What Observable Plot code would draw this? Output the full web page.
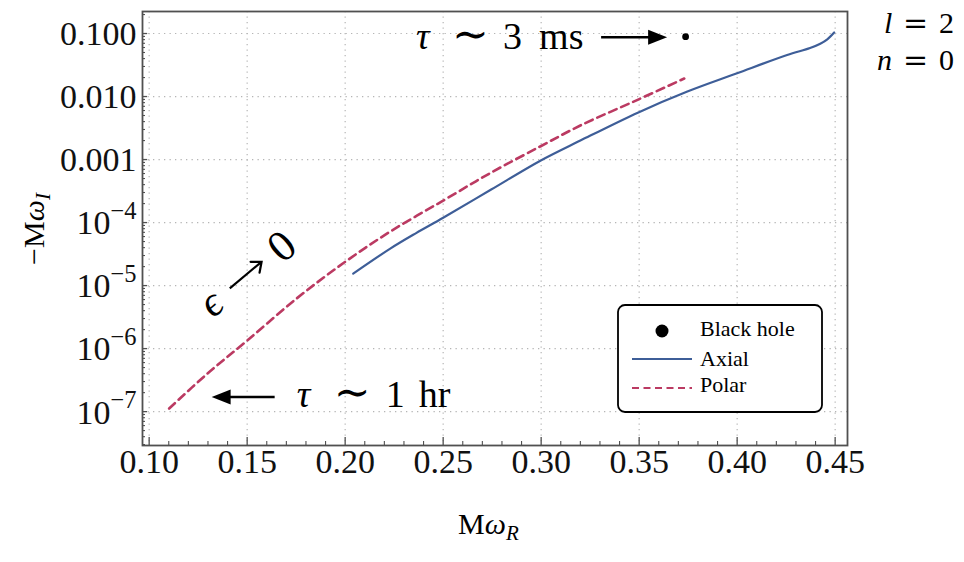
<!DOCTYPE html>
<html>
<head>
<meta charset="utf-8">
<script src="https://cdn.jsdelivr.net/npm/d3@7"></script>
<script src="https://cdn.jsdelivr.net/npm/@observablehq/plot@0.6"></script>
<style>
  html, body { margin: 0; padding: 0; background: #fff; }
  #chart svg { display: block; }
</style>
</head>
<body>
<div id="chart"></div>
<script>
// ---------- data ----------
const axialX = [0.2041, 0.2230, 0.2362, 0.2500, 0.2745, 0.2996, 0.3200, 0.3496, 0.3746, 0.3996, 0.4255, 0.4372, 0.4424, 0.4460, 0.4495];
const axialY = [1.55e-5, 3.86e-5, 6.8e-5, 1.19e-4, 3.34e-4, 9.6e-4, 2.0e-3, 5.6e-3, 1.2e-2, 2.32e-2, 4.56e-2, 5.9e-2, 6.9e-2, 8.1e-2, 1.04e-1];

const polarX = [0.1102, 0.1295, 0.1500, 0.1754, 0.1995, 0.2230, 0.2500, 0.2745, 0.2995, 0.3200, 0.3495, 0.3730];
const polarY = [1.12e-7, 3.96e-7, 1.34e-6, 6.3e-6, 2.32e-5, 7.2e-5, 2.23e-4, 6.22e-4, 1.61e-3, 3.47e-3, 8.95e-3, 1.93e-2];

const blackHoleX = [0.3737];
const blackHoleY = [0.0890];

const xTicks = [0.10, 0.15, 0.20, 0.25, 0.30, 0.35, 0.40, 0.45];
const xTickLabels = ["0.10", "0.15", "0.20", "0.25", "0.30", "0.35", "0.40", "0.45"];
const yTicks = [1e-7, 1e-6, 1e-5, 1e-4, 1e-3, 1e-2, 1e-1];
const yTickLabels = ["10^−7", "10^−6", "10^−5", "10^−4", "0.001", "0.010", "0.100"];

const xDomain = [0.0966, 0.4563];
const yDomain = [2.9e-8, 0.2236];

const legendLabels = ["Black hole", "Axial", "Polar"];

// ---------- derived tables ----------
const axial = axialX.map((x, i) => ({x, y: axialY[i]}));
const polar = polarX.map((x, i) => ({x, y: polarY[i]}));
const blackHole = blackHoleX.map((x, i) => ({x, y: blackHoleY[i]}));
const xTickData = xTicks.map((v, i) => ({v, label: xTickLabels[i]}));
const yTickData = yTicks.map((v, i) => ({v, label: yTickLabels[i]}));

const xMinor = [];
for (let k = 10; k <= 45; k++) { if (k % 5 !== 0) xMinor.push(k / 100); }
const yMinor = [];
for (let e = -8; e <= -1; e++) for (let m = 2; m <= 9; m++) {
  const v = m * Math.pow(10, e);
  if (v >= yDomain[0] && v <= yDomain[1]) yMinor.push(v);
}

// ---------- layout ----------
const W = 964, H = 562;
const mL = 142, mR = 117, mT = 11, mB = 117;
const fw = W - mL - mR, fh = H - mT - mB;
const SERIF = "'Liberation Serif', 'Times New Roman', serif";
const MATHSYM = "'DejaVu Serif', serif";
const AXIAL_COLOR = "#3e5e98";
const POLAR_COLOR = "#bb3a62";
const GRID = "#b5b5b5";
const AXC = "#505050";

const svg = Plot.plot({
  width: W, height: H,
  marginLeft: mL, marginRight: mR, marginTop: mT, marginBottom: mB,
  style: {background: "#fff", fontFamily: SERIF},
  x: {domain: xDomain, axis: null},
  y: {type: "log", domain: yDomain, axis: null},
  marks: [
    Plot.ruleX(xTicks, {x: d => d, stroke: GRID, strokeWidth: 1.2, strokeDasharray: "1.3,4.2"}),
    Plot.ruleY(yTicks, {y: d => d, stroke: GRID, strokeWidth: 1.2, strokeDasharray: "1.3,4.2"}),
    Plot.line(polar, {x: "x", y: "y", stroke: POLAR_COLOR, strokeWidth: 2.6, strokeDasharray: "8,5", curve: "catmull-rom"}),
    Plot.line(axial, {x: "x", y: "y", stroke: AXIAL_COLOR, strokeWidth: 2.2, curve: "catmull-rom"}),
    Plot.dot(blackHole, {x: "x", y: "y", r: 3.4, fill: "#000", stroke: null}),
    // inward ticks
    Plot.ruleY(yTicks, {y: d => d, insetRight: fw - 5, stroke: AXC, strokeWidth: 1.3}),
    Plot.ruleY(yMinor, {y: d => d, insetRight: fw - 3, stroke: AXC, strokeWidth: 1.1}),
    Plot.ruleX(xTicks, {x: d => d, insetTop: fh - 8, stroke: AXC, strokeWidth: 1.3}),
    Plot.ruleX(xMinor, {x: d => d, insetTop: fh - 4, stroke: AXC, strokeWidth: 1.1}),
    // tick labels
    Plot.text(yTickData, {y: "v", text: "label", frameAnchor: "left", dx: -6, dy: 1, textAnchor: "end", fontSize: 34, fontFamily: SERIF, fill: "#111"}),
    Plot.text(xTickData, {x: "v", text: "label", frameAnchor: "bottom", dy: 27, fontSize: 34, fontFamily: SERIF, fill: "#111"}),
    Plot.frame({stroke: AXC, strokeWidth: 1.8})
  ]
});

document.getElementById("chart").appendChild(svg);

// superscript formatting for tick labels of the form "10^−4"
svg.querySelectorAll("text").forEach(t => {
  const s = t.textContent;
  if (s.includes("^")) {
    const [base, exp] = s.split("^");
    t.textContent = "";
    const NS = "http://www.w3.org/2000/svg";
    const b = document.createElementNS(NS, "tspan");
    b.textContent = base;
    const e = document.createElementNS(NS, "tspan");
    e.textContent = exp;
    e.setAttribute("font-size", "0.72em");
    e.setAttribute("dy", "-0.62em");
    t.appendChild(b);
    t.appendChild(e);
  }
});

// ---------- annotations (positioned through the plot's scales) ----------
const sx = svg.scale("x"), sy = svg.scale("y");
const g = d3.select(svg).append("g").attr("font-family", SERIF).attr("fill", "#000").attr("text-anchor", "start");

function put(x, y, str, size, opts = {}) {
  const t = g.append("text").attr("x", x).attr("y", y).attr("font-size", size).attr("text-anchor", opts.anchor || "start");
  if (opts.italic) t.attr("font-style", "italic");
  if (opts.family) t.attr("font-family", opts.family);
  t.text(str);
  return t;
}

const bx = sx.apply(blackHoleX[0]), by = sy.apply(blackHoleY[0]);

// tau ~ 3 ms ---> black hole
const ay = by + 1;
g.append("line").attr("x1", bx - 84).attr("x2", bx - 30).attr("y1", ay).attr("y2", ay)
  .attr("stroke", "#000").attr("stroke-width", 2.6);
g.append("path").attr("d", `M${bx - 18},${ay} L${bx - 37},${ay - 7.5} L${bx - 37},${ay + 7.5} Z`).attr("fill", "#000");
put(bx - 269, ay + 12, "τ", 38, {italic: true});
put(bx - 233, ay + 12, "∼", 44, {family: MATHSYM});
put(bx - 182, ay + 12, "3", 38);
put(bx - 146, ay + 12, "ms", 38);

// <--- tau ~ 1 hr near the start of the polar branch
const px0 = sx.apply(polarX[0]), py0 = sy.apply(polarY[0]);
const hy = py0 - 11;
g.append("path").attr("d", `M${px0 + 43},${hy} L${px0 + 62},${hy - 7.5} L${px0 + 62},${hy + 7.5} Z`).attr("fill", "#000");
g.append("line").attr("x1", px0 + 56).attr("x2", px0 + 106).attr("y1", hy).attr("y2", hy)
  .attr("stroke", "#000").attr("stroke-width", 2.6);
put(px0 + 128, hy + 10, "τ", 38, {italic: true});
put(px0 + 165, hy + 10, "∼", 44, {family: MATHSYM});
put(px0 + 217, hy + 10, "1", 38);
put(px0 + 250, hy + 10, "hr", 38);

// epsilon -> 0 (rotated, along the polar branch)
const ex = sx.apply(0.1496), ey = sy.apply(1.45e-5);
const eg = g.append("g").attr("transform", `translate(${ex},${ey}) rotate(-40)`);
eg.append("text").attr("x", -45).attr("y", 0).attr("dy", "0.3em").attr("text-anchor", "middle")
  .attr("font-size", 42).attr("font-style", "italic").text("ϵ");
eg.append("line").attr("x1", -21).attr("x2", 20).attr("y1", 0).attr("y2", 0).attr("stroke", "#000").attr("stroke-width", 2.2);
eg.append("path").attr("d", "M12,-7 L20.5,0 L12,7").attr("fill", "none").attr("stroke", "#000").attr("stroke-width", 2.2).attr("stroke-linecap", "round");
eg.append("text").attr("x", 46).attr("y", 0).attr("dy", "0.35em").attr("text-anchor", "middle")
  .attr("font-size", 44).text("0");

// l = 2, n = 0
put(884, 33, "l", 30, {italic: true});
put(903, 33, "=", 30, {family: MATHSYM});
put(939, 33, "2", 30);
put(877, 70, "n", 30, {italic: true});
put(903, 70, "=", 30, {family: MATHSYM});
put(939, 70, "0", 30);

// axis titles
const xl = g.append("text").attr("x", 458).attr("y", 534).attr("font-size", 30).attr("text-anchor", "start");
xl.append("tspan").text("M");
xl.append("tspan").attr("font-style", "italic").text("ω");
xl.append("tspan").attr("font-style", "italic").attr("font-size", 21).attr("dy", 6).text("R");

const yl = g.append("text").attr("transform", "translate(44,229) rotate(-90)").attr("text-anchor", "middle").attr("font-size", 30);
yl.append("tspan").text("−M");
yl.append("tspan").attr("font-style", "italic").text("ω");
yl.append("tspan").attr("font-style", "italic").attr("font-size", 21).attr("dy", 6).text("I");

// legend
const lg = g.append("g");
lg.append("rect").attr("x", 618).attr("y", 305).attr("width", 204).attr("height", 107).attr("rx", 7)
  .attr("fill", "#fff").attr("stroke", "#000").attr("stroke-width", 1.8);
lg.append("circle").attr("cx", 662).attr("cy", 331).attr("r", 6.5).attr("fill", "#000");
lg.append("line").attr("x1", 632).attr("x2", 692).attr("y1", 359).attr("y2", 359).attr("stroke", AXIAL_COLOR).attr("stroke-width", 2);
lg.append("line").attr("x1", 632).attr("x2", 692).attr("y1", 388).attr("y2", 388).attr("stroke", POLAR_COLOR).attr("stroke-width", 2.2).attr("stroke-dasharray", "7,4.5");
[336, 366, 392].forEach((yy, i) => {
  lg.append("text").attr("x", 700).attr("y", yy).attr("font-size", 22).attr("text-anchor", "start").text(legendLabels[i]);
});
</script>
</body>
</html>
